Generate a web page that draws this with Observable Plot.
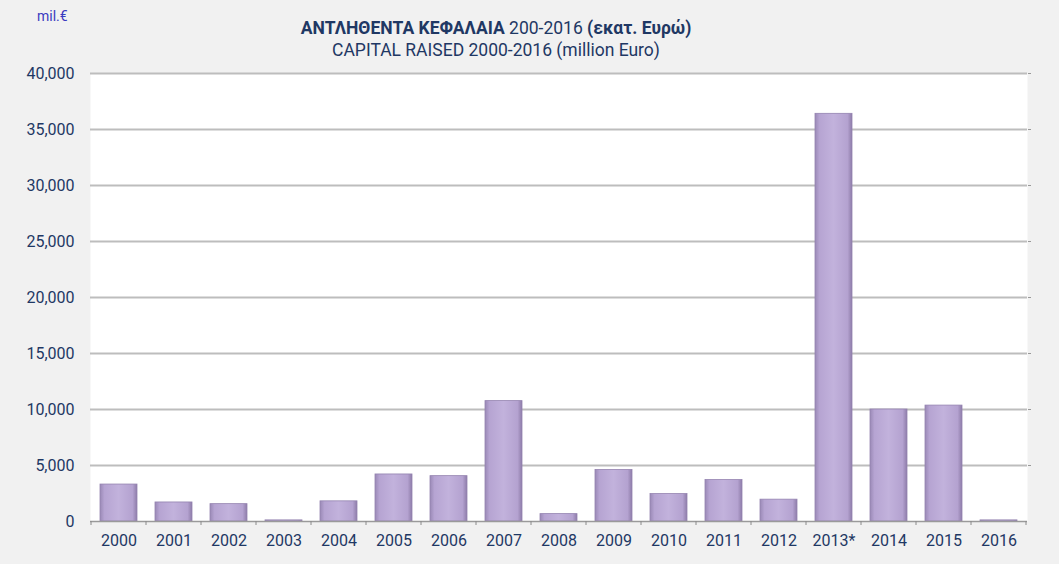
<!DOCTYPE html>
<html>
<head>
<meta charset="utf-8">
<script src="https://cdn.jsdelivr.net/npm/d3@7"></script>
<script src="https://cdn.jsdelivr.net/npm/@observablehq/plot@0.6"></script>
<style>
  html, body { margin: 0; padding: 0; background: #f1f1f1; }
  #wrap { position: relative; width: 1059px; height: 564px; background: #f1f1f1; font-family: Roboto, "Open Sans", sans-serif; overflow: hidden; }
  #unit { position: absolute; left: 37px; top: 8px; font-size: 14px; color: #3a3ac0; }
  #title { position: absolute; left: 0; width: 992px; top: 17px; text-align: center; color: #1f3864; font-size: 17.5px; line-height: 22px; }
  #title b { font-weight: 700; }
  #chart { position: absolute; left: 0; top: 0; }
</style>
</head>
<body>
<div id="wrap">
  <div id="chart"></div>
  <div id="unit">mil.€</div>
  <div id="title"><b>ΑΝΤΛΗΘΕΝΤΑ ΚΕΦΑΛΑΙΑ</b> 200-2016 <b>(εκατ. Ευρώ)</b><br>CAPITAL RAISED 2000-2016 (million Euro)</div>
</div>
<script>
const years = ["2000","2001","2002","2003","2004","2005","2006","2007","2008","2009","2010","2011","2012","2013","2014","2015","2016"];
const yearLabels = ["2000","2001","2002","2003","2004","2005","2006","2007","2008","2009","2010","2011","2012","2013*","2014","2015","2016"];
const capital = [3300, 1700, 1550, 100, 1800, 4200, 4050, 10750, 660, 4600, 2450, 3700, 1950, 36400, 10000, 10350, 100];
const yTicks = [0, 5000, 10000, 15000, 20000, 25000, 30000, 35000, 40000];

const data = years.map((y, i) => ({year: y, value: capital[i]}));
const labelOf = new Map(years.map((y, i) => [y, yearLabels[i]]));

const W = 1059, H = 564, ML = 90, MR = 32, MT = 73, MB = 43;
const ink = "#1f3864";

const plot = Plot.plot({
  width: W,
  height: H,
  marginLeft: ML,
  marginRight: MR,
  marginTop: MT,
  marginBottom: MB,
  style: { background: "transparent", color: ink, fontFamily: "Roboto, 'Open Sans', sans-serif", overflow: "visible" },
  x: { domain: years, paddingInner: 0.32, paddingOuter: 0.16, label: null },
  y: { domain: [0, 40000], label: null },
  marks: [
    Plot.frame({ fill: "white", stroke: null }),
    Plot.gridY(yTicks.filter(d => d > 0), { stroke: "#bdbdbd", strokeOpacity: 1, strokeWidth: 2 }),
    Plot.barY(data, { x: "year", y: "value", fill: "url(#barGrad)", stroke: "#9483b0", strokeWidth: 0.8 }),
    Plot.ruleY([0], { stroke: "#9a9a9a", strokeWidth: 1.5 }),
    Plot.axisY({ ticks: yTicks, tickSize: 0, tickPadding: 16, tickFormat: d3.format(","), fontSize: 16 }),
    Plot.axisY({ anchor: "right", ticks: yTicks.filter(d => d > 0), tickSize: 3, stroke: "#999", tickFormat: () => "" }),
    Plot.axisX({ tickSize: 0, tickPadding: 13, fontSize: 16, tickFormat: d => labelOf.get(d) })
  ]
});

// gradient for the bars
const svg = d3.select(plot);
const defs = svg.insert("defs", ":first-child");
const g = defs.append("linearGradient").attr("id", "barGrad").attr("x1", "0").attr("x2", "1").attr("y1", "0").attr("y2", "0");
[["0%", "#9a89b6"], ["12%", "#b6a4d2"], ["50%", "#c2b2dc"], ["88%", "#b4a2d0"], ["100%", "#8e7ca9"]]
  .forEach(([o, c]) => g.append("stop").attr("offset", o).attr("stop-color", c));

// band-boundary ticks on the x axis, derived from the x scale
const xs = plot.scale("x");
const ys = plot.scale("y");
const y0 = ys.apply(0);
const step = xs.step;
const starts = years.map(y => xs.apply(y) - (step - xs.bandwidth) / 2);
starts.push(starts[starts.length - 1] + step);
svg.append("g").selectAll("line").data(starts).join("line")
  .attr("x1", d => d).attr("x2", d => d)
  .attr("y1", y0).attr("y2", y0 + 4)
  .attr("stroke", "#8a8a8a").attr("stroke-width", 1);

document.getElementById("chart").appendChild(plot);
</script>
</body>
</html>
